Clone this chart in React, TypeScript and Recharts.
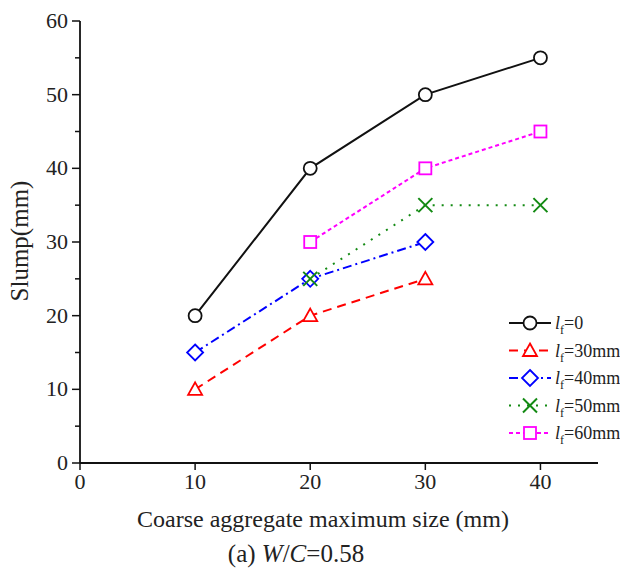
import { LineChart, Line, XAxis, YAxis } from "recharts"

const FONT = "'Liberation Serif', 'Times New Roman', serif"

// coarse aggregate maximum size (mm)
const sizesA = [10, 20, 30, 40]
const sizesB = [10, 20, 30]
const sizesC = [20, 30, 40]

// slump (mm) per fibre length
const slumpL0 = [20, 40, 50, 55]
const slumpL30 = [10, 20, 25]
const slumpL40 = [15, 25, 30]
const slumpL50 = [25, 35, 35]
const slumpL60 = [30, 40, 45]

const xTicks = [0, 10, 20, 30, 40]
const yTicks = [0, 5, 10, 15, 20, 25, 30, 35, 40, 45, 50, 55, 60]

const toPoints = (xs: number[], ys: number[]) => xs.map((x, i) => ({ x, y: ys[i] }))

type Shape = "circle" | "triangle" | "diamond" | "cross" | "square"

const SERIES = [
  { key: "l0", suffix: "=0", color: "#111111", dash: undefined, shape: "circle" as Shape, data: toPoints(sizesA, slumpL0) },
  { key: "l30", suffix: "=30mm", color: "#ff0000", dash: "9 6", shape: "triangle" as Shape, data: toPoints(sizesB, slumpL30) },
  { key: "l40", suffix: "=40mm", color: "#0000ff", dash: "9 4 2 4", shape: "diamond" as Shape, data: toPoints(sizesB, slumpL40) },
  { key: "l50", suffix: "=50mm", color: "#138a13", dash: "2 7", shape: "cross" as Shape, data: toPoints(sizesC, slumpL50) },
  { key: "l60", suffix: "=60mm", color: "#ff00ff", dash: "4 3", shape: "square" as Shape, data: toPoints(sizesC, slumpL60) },
]

function Marker({ cx, cy, shape, color }: { cx: number; cy: number; shape: Shape; color: string }) {
  const common = { fill: "#fff", stroke: color, strokeWidth: 1.8 }
  if (shape === "circle") return <circle cx={cx} cy={cy} r={6.5} {...common} />
  if (shape === "triangle")
    return <path d={`M${cx},${cy - 7} L${cx + 7},${cy + 5.5} L${cx - 7},${cy + 5.5} Z`} {...common} />
  if (shape === "diamond")
    return <path d={`M${cx},${cy - 8} L${cx + 8},${cy} L${cx},${cy + 8} L${cx - 8},${cy} Z`} {...common} />
  if (shape === "square") return <rect x={cx - 6} y={cy - 6} width={12} height={12} {...common} />
  return (
    <path d={`M${cx - 7},${cy - 7} L${cx + 7},${cy + 7} M${cx - 7},${cy + 7} L${cx + 7},${cy - 7}`} stroke={color} strokeWidth={2} fill="none" />
  )
}

function YTick({ x, y, payload }: any) {
  const major = payload.value % 10 === 0
  return (
    <g>
      <line x1={x} x2={x - (major ? 8 : 5)} y1={y} y2={y} stroke="#111" strokeWidth={1.5} />
      {major && (
        <text x={x - 12} y={y} dy={7} textAnchor="end" fontSize={22} fontFamily={FONT} fill="#222">
          {payload.value}
        </text>
      )}
    </g>
  )
}

function XTick({ x, y, payload }: any) {
  return (
    <g>
      <line x1={x} x2={x} y1={y} y2={y + 7} stroke="#111" strokeWidth={1.5} />
      <text x={x} y={y + 26} textAnchor="middle" fontSize={22} fontFamily={FONT} fill="#222">
        {payload.value}
      </text>
    </g>
  )
}

function LegendBox({ left, top }: { left: number; top: number }) {
  return (
    <g transform={`translate(${left},${top})`}>
      {SERIES.map((s, i) => {
        const cy = i * 27.5
        return (
          <g key={s.key}>
            <line x1={0} x2={42} y1={cy} y2={cy} stroke={s.color} strokeWidth={2} strokeDasharray={s.dash} />
            <Marker cx={21} cy={cy} shape={s.shape} color={s.color} />
            <text x={46} y={cy + 6} fontSize={18} fontFamily={FONT} fill="#222">
              <tspan fontStyle="italic">l</tspan>
              <tspan fontSize={12} dy={5}>f</tspan>
              <tspan dy={-5}>{s.suffix}</tspan>
            </text>
          </g>
        )
      })}
    </g>
  )
}

export default function App() {
  return (
    <div style={{ position: "absolute", left: 0, top: 0, width: 620, height: 572, background: "#fff" }}>
      <LineChart width={620} height={572} margin={{ top: 21, right: 22, bottom: 79, left: 0 }}>
        <XAxis
          type="number"
          dataKey="x"
          domain={[0, 45]}
          ticks={xTicks}
          allowDuplicatedCategory={false}
          height={30}
          tickSize={0}
          tickMargin={0}
          tickLine={false}
          tick={<XTick />}
          axisLine={{ stroke: "#111", strokeWidth: 1.8 }}
        />
        <YAxis
          type="number"
          domain={[0, 60]}
          ticks={yTicks}
          interval={0}
          width={80}
          tickSize={0}
          tickMargin={0}
          tickLine={false}
          tick={<YTick />}
          axisLine={{ stroke: "#111", strokeWidth: 1.8 }}
        />
        {SERIES.map((s) => (
          <Line
            key={s.key}
            data={s.data}
            dataKey="y"
            name={s.key}
            stroke={s.color}
            strokeWidth={2}
            strokeDasharray={s.dash}
            isAnimationActive={false}
            dot={(p: any) => <Marker key={`${s.key}-${p.index}`} cx={p.cx} cy={p.cy} shape={s.shape} color={s.color} />}
            activeDot={false}
          />
        ))}
      </LineChart>
      <svg width={620} height={572} style={{ position: "absolute", left: 0, top: 0, pointerEvents: "none" }}>
        <LegendBox left={509} top={323} />
        <text x={28} y={241} transform="rotate(-90 28 241)" textAnchor="middle" fontSize={25} fontFamily={FONT} fill="#222">
          Slump(mm)
        </text>
        <text x={323} y={527} textAnchor="middle" fontSize={24} fontFamily={FONT} fill="#222">
          Coarse aggregate maximum size (mm)
        </text>
        <text x={296} y={562} textAnchor="middle" fontSize={25} fontFamily={FONT} fill="#222">
          (a) <tspan fontStyle="italic">W</tspan>/<tspan fontStyle="italic">C</tspan>=0.58
        </text>
      </svg>
    </div>
  )
}
